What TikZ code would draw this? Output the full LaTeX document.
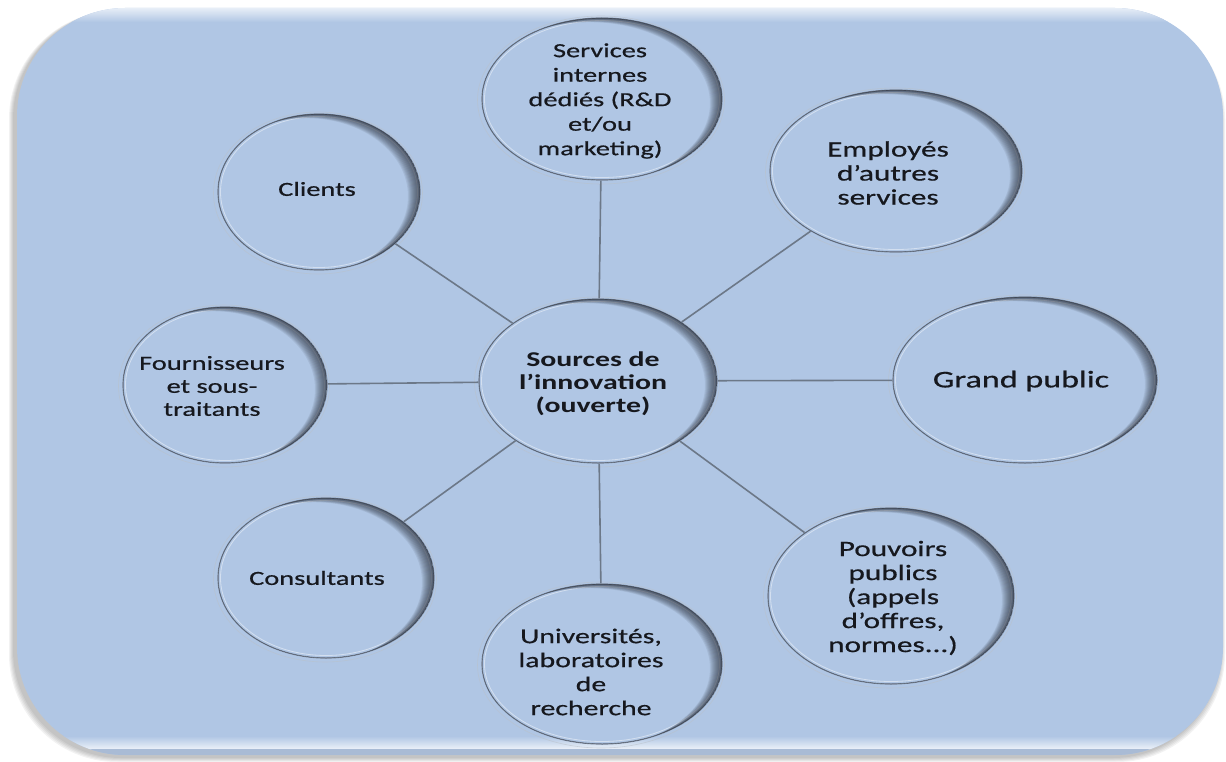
\documentclass[tikz,border=0pt]{standalone}
\usepackage{fontspec}
\setmainfont{Carlito}[FakeStretch=1.42, UprightFeatures={FakeBold=0.6}]
\usetikzlibrary{shapes.geometric}
\definecolor{bgblue}{RGB}{176,198,228}
\definecolor{rim}{RGB}{118,130,148}
\definecolor{rimdark}{RGB}{40,46,58}
\definecolor{conn}{RGB}{108,120,136}
\definecolor{txt}{RGB}{22,24,30}

% name, x, y, rx, ry
\newcommand{\bubble}[5]{%
  \draw[white!50!rim, line width=0.6pt, opacity=0.6] ({#2-1},{#3+1}) ellipse[x radius=#4+3.5, y radius=#5+3];
  \node[bub, minimum width={2*#4pt}, minimum height={2*#5pt}] (#1) at (#2,#3) {};
  \begin{scope}
    \clip (#2,#3) ellipse[x radius=#4, y radius=#5];
    \draw[white, opacity=0.45, line width=0.8pt] (#2,#3) ellipse[x radius=#4-2.5, y radius=#5-2.5];
    \foreach \s in {1,...,12} {
      \fill[rimdark, opacity=0.085, even odd rule] (#2,#3) ellipse[x radius=#4, y radius=#5]
        ({#2-\s},{#3+0.35*\s}) ellipse[x radius=#4, y radius=#5];
    }
  \end{scope}
}

\begin{document}
\begin{tikzpicture}[x=1pt,y=-1pt,
  bub/.style={ellipse, draw=rim, line width=1.2pt, fill=bgblue, inner sep=0pt},
  lbl/.style={align=center, text=txt, inner sep=0pt},
  link/.style={draw=conn, line width=1.6pt}]
\useasboundingbox (0,0) rectangle (1226,762);

% background panel with shadow
\foreach \d in {0,1,2,3,4} {
  \fill[black, opacity=0.05, rounded corners=108pt] ({17-4-\d},{8+3}) rectangle ({1223-2+\d},{755+3+\d});
}
\path[fill=bgblue, rounded corners=108pt] (17,8) rectangle (1223,755);
\begin{scope}
  \clip[rounded corners=108pt] (17,8) rectangle (1223,755);
  \shade[top color=white!70!bgblue, bottom color=bgblue] (17,8) rectangle (1223,22);
  \shade[top color=bgblue, bottom color=white!75!bgblue] (17,736) rectangle (1223,749);
  \fill[bgblue!85!gray] (17,749) rectangle (1223,755);
\end{scope}

% bubbles
\bubble{serv}{602}{99}{120}{81}
\bubble{empl}{896}{171}{126}{81}
\bubble{grand}{1025}{380}{132}{83}
\bubble{pouv}{891}{596}{123}{88}
\bubble{univ}{602}{664}{120}{80}
\bubble{cons}{326}{578}{108}{80}
\bubble{four}{225}{385}{102}{78}
\bubble{clie}{319}{192}{101}{78}
\bubble{src}{598}{381}{119}{82}

% connectors
\foreach \n in {serv,empl,grand,pouv,univ,cons,four,clie} {
  \draw[link] (src) -- (\n);
}

% labels
\node[lbl, font={\fontsize{20}{24.5}\selectfont}] (tserv) at (600,101) {Services\\internes\\dédiés (R\&D\\et/ou\\marketing)};
\node[lbl, font={\fontsize{22}{24}\selectfont}] (templ) at (888,173) {Employés\\d’autres\\services};
\node[lbl, font={\fontsize{24}{28}\selectfont}] (tgrand) at (1021,381) {Grand public};
\node[lbl, font={\fontsize{22}{24}\selectfont}] (tpouv) at (893,598) {Pouvoirs\\publics\\(appels\\d’offres,\\normes...)};
\node[lbl, font={\fontsize{21}{24}\selectfont}] (tuniv) at (591,672) {Universités,\\laboratoires\\de\\recherche};
\node[lbl, font={\fontsize{20}{24}\selectfont}] (tcons) at (317,578) {Consultants};
\node[lbl, font={\fontsize{20}{23}\selectfont}] (tfour) at (212,386) {Fournisseurs\\et sous-\\traitants};
\node[lbl, font={\fontsize{20}{24}\selectfont}] (tclie) at (317,189) {Clients};
\node[lbl, font={\bfseries\fontsize{21}{23}\selectfont}] (tsrc) at (593,384) {Sources de\\l’innovation\\(ouverte)};
\end{tikzpicture}
\end{document}
